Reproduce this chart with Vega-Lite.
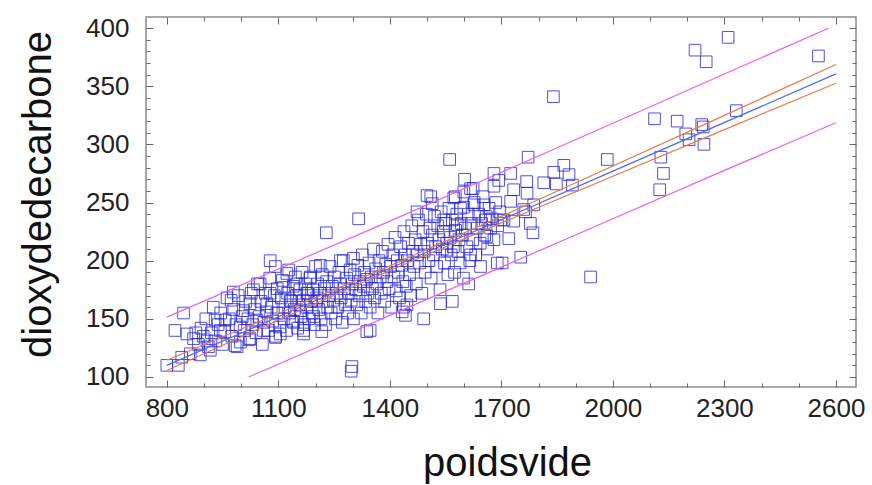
{
  "$schema": "https://vega.github.io/schema/vega-lite/v6.json",
  "autosize": "none",
  "width": 710,
  "height": 370,
  "padding": {"left": 146, "top": 17, "right": 16, "bottom": 98},
  "background": "white",
  "config": {
    "view": {"stroke": "#8c8c8c", "strokeWidth": 1.5},
    "axis": {
      "domain": false,
      "grid": false,
      "tickColor": "#666666",
      "tickWidth": 1,
      "labelFont": "Liberation Sans",
      "labelFontSize": 26,
      "labelColor": "#222222",
      "titleFont": "Liberation Sans",
      "titleFontSize": 40,
      "titleFontWeight": "normal",
      "titleColor": "#111111"
    }
  },
  "datasets": {
    "pts": [
      {"poidsvide": 2310, "co2": 392}, {"poidsvide": 2221, "co2": 381}, {"poidsvide": 2251, "co2": 371}, {"poidsvide": 2553, "co2": 376},
      {"poidsvide": 2332, "co2": 329}, {"poidsvide": 2112, "co2": 322}, {"poidsvide": 2173, "co2": 320}, {"poidsvide": 2239, "co2": 317},
      {"poidsvide": 2243, "co2": 315}, {"poidsvide": 2196, "co2": 309}, {"poidsvide": 2205, "co2": 304}, {"poidsvide": 2245, "co2": 300},
      {"poidsvide": 2129, "co2": 289}, {"poidsvide": 2136, "co2": 275}, {"poidsvide": 2126, "co2": 261}, {"poidsvide": 1985, "co2": 287},
      {"poidsvide": 1882, "co2": 274}, {"poidsvide": 1868, "co2": 282}, {"poidsvide": 1891, "co2": 265}, {"poidsvide": 1940, "co2": 186},
      {"poidsvide": 1772, "co2": 289}, {"poidsvide": 1841, "co2": 276}, {"poidsvide": 1814, "co2": 267}, {"poidsvide": 1848, "co2": 266},
      {"poidsvide": 1768, "co2": 268}, {"poidsvide": 1769, "co2": 258}, {"poidsvide": 1733, "co2": 261}, {"poidsvide": 1725, "co2": 275},
      {"poidsvide": 1725, "co2": 251}, {"poidsvide": 1787, "co2": 248}, {"poidsvide": 1733, "co2": 234}, {"poidsvide": 1778, "co2": 232},
      {"poidsvide": 1785, "co2": 224}, {"poidsvide": 1720, "co2": 219}, {"poidsvide": 1752, "co2": 203}, {"poidsvide": 1702, "co2": 198},
      {"poidsvide": 1765, "co2": 242}, {"poidsvide": 1707, "co2": 235}, {"poidsvide": 1840, "co2": 341}, {"poidsvide": 1561, "co2": 287},
      {"poidsvide": 1601, "co2": 270}, {"poidsvide": 1680, "co2": 275}, {"poidsvide": 1624, "co2": 262}, {"poidsvide": 1576, "co2": 255},
      {"poidsvide": 1693, "co2": 269}, {"poidsvide": 1590, "co2": 245}, {"poidsvide": 1653, "co2": 248}, {"poidsvide": 1760, "co2": 244},
      {"poidsvide": 1545, "co2": 235}, {"poidsvide": 1581, "co2": 231}, {"poidsvide": 1657, "co2": 235}, {"poidsvide": 1698, "co2": 235},
      {"poidsvide": 1661, "co2": 221}, {"poidsvide": 1644, "co2": 195}, {"poidsvide": 1612, "co2": 180}, {"poidsvide": 1568, "co2": 165},
      {"poidsvide": 1617, "co2": 205}, {"poidsvide": 1554, "co2": 209},
      {"poidsvide": 800, "co2": 110}, {"poidsvide": 831, "co2": 110}, {"poidsvide": 840, "co2": 117}, {"poidsvide": 863, "co2": 120},
      {"poidsvide": 822, "co2": 140}, {"poidsvide": 854, "co2": 137}, {"poidsvide": 872, "co2": 133}, {"poidsvide": 845, "co2": 155},
      {"poidsvide": 878, "co2": 138}, {"poidsvide": 890, "co2": 119}, {"poidsvide": 917, "co2": 123}, {"poidsvide": 908, "co2": 131},
      {"poidsvide": 930, "co2": 149}, {"poidsvide": 944, "co2": 140}, {"poidsvide": 957, "co2": 149}, {"poidsvide": 979, "co2": 173},
      {"poidsvide": 973, "co2": 166}, {"poidsvide": 984, "co2": 127}, {"poidsvide": 997, "co2": 143}, {"poidsvide": 1006, "co2": 157},
      {"poidsvide": 1024, "co2": 163}, {"poidsvide": 1024, "co2": 133}, {"poidsvide": 1033, "co2": 175}, {"poidsvide": 1042, "co2": 149},
      {"poidsvide": 1051, "co2": 180}, {"poidsvide": 1060, "co2": 140}, {"poidsvide": 1069, "co2": 163}, {"poidsvide": 1078, "co2": 200},
      {"poidsvide": 1092, "co2": 195}, {"poidsvide": 1078, "co2": 172}, {"poidsvide": 1096, "co2": 155}, {"poidsvide": 1105, "co2": 137},
      {"poidsvide": 1123, "co2": 189}, {"poidsvide": 1114, "co2": 177}, {"poidsvide": 1132, "co2": 166}, {"poidsvide": 1141, "co2": 147},
      {"poidsvide": 1150, "co2": 180}, {"poidsvide": 1159, "co2": 157}, {"poidsvide": 1168, "co2": 140}, {"poidsvide": 1177, "co2": 172},
      {"poidsvide": 1186, "co2": 186}, {"poidsvide": 1195, "co2": 152}, {"poidsvide": 1204, "co2": 166},
      {"poidsvide": 1316, "co2": 236}, {"poidsvide": 1229, "co2": 224}, {"poidsvide": 1302, "co2": 202}, {"poidsvide": 1267, "co2": 200},
      {"poidsvide": 1213, "co2": 196}, {"poidsvide": 1298, "co2": 109}, {"poidsvide": 1296, "co2": 105}, {"poidsvide": 1347, "co2": 140},
      {"poidsvide": 1338, "co2": 139}, {"poidsvide": 1491, "co2": 150}, {"poidsvide": 1442, "co2": 153}, {"poidsvide": 1437, "co2": 160},
      {"poidsvide": 1536, "co2": 163}, {"poidsvide": 1689, "co2": 198}, {"poidsvide": 1217, "co2": 139}, {"poidsvide": 1092, "co2": 134},
      {"poidsvide": 989, "co2": 126}, {"poidsvide": 1500, "co2": 256}, {"poidsvide": 1510, "co2": 255}, {"poidsvide": 1473, "co2": 242},
      {"poidsvide": 1572, "co2": 254}, {"poidsvide": 1599, "co2": 259}, {"poidsvide": 1617, "co2": 262}, {"poidsvide": 1680, "co2": 264},
      {"poidsvide": 1626, "co2": 248}, {"poidsvide": 1514, "co2": 249}, {"poidsvide": 1599, "co2": 246}, {"poidsvide": 1433, "co2": 156},
      {"poidsvide": 1446, "co2": 162}, {"poidsvide": 1168, "co2": 137},
      {"poidsvide": 885, "co2": 128}, {"poidsvide": 892, "co2": 142}, {"poidsvide": 898, "co2": 135}, {"poidsvide": 905, "co2": 150},
      {"poidsvide": 912, "co2": 126}, {"poidsvide": 920, "co2": 138}, {"poidsvide": 925, "co2": 160}, {"poidsvide": 932, "co2": 131},
      {"poidsvide": 938, "co2": 145}, {"poidsvide": 945, "co2": 155}, {"poidsvide": 950, "co2": 128}, {"poidsvide": 956, "co2": 139},
      {"poidsvide": 962, "co2": 168}, {"poidsvide": 968, "co2": 150}, {"poidsvide": 975, "co2": 135}, {"poidsvide": 980, "co2": 158},
      {"poidsvide": 986, "co2": 145}, {"poidsvide": 992, "co2": 170}, {"poidsvide": 998, "co2": 130}, {"poidsvide": 1003, "co2": 152},
      {"poidsvide": 1008, "co2": 140}, {"poidsvide": 1012, "co2": 165}, {"poidsvide": 1018, "co2": 150}, {"poidsvide": 1022, "co2": 132},
      {"poidsvide": 1027, "co2": 172}, {"poidsvide": 1031, "co2": 145}, {"poidsvide": 1036, "co2": 158}, {"poidsvide": 1040, "co2": 138},
      {"poidsvide": 1044, "co2": 180}, {"poidsvide": 1048, "co2": 152}, {"poidsvide": 1053, "co2": 165}, {"poidsvide": 1057, "co2": 128},
      {"poidsvide": 1061, "co2": 147}, {"poidsvide": 1065, "co2": 172}, {"poidsvide": 1069, "co2": 156}, {"poidsvide": 1073, "co2": 140},
      {"poidsvide": 1077, "co2": 185}, {"poidsvide": 1081, "co2": 160}, {"poidsvide": 1085, "co2": 148}, {"poidsvide": 1089, "co2": 170},
      {"poidsvide": 1093, "co2": 135}, {"poidsvide": 1097, "co2": 176}, {"poidsvide": 1101, "co2": 155}, {"poidsvide": 1104, "co2": 143},
      {"poidsvide": 1108, "co2": 168}, {"poidsvide": 1111, "co2": 183}, {"poidsvide": 1115, "co2": 150}, {"poidsvide": 1118, "co2": 160},
      {"poidsvide": 1122, "co2": 140}, {"poidsvide": 1125, "co2": 172}, {"poidsvide": 1128, "co2": 192}, {"poidsvide": 1131, "co2": 155},
      {"poidsvide": 1134, "co2": 165}, {"poidsvide": 1137, "co2": 148}, {"poidsvide": 1140, "co2": 178}, {"poidsvide": 1143, "co2": 158},
      {"poidsvide": 1146, "co2": 186}, {"poidsvide": 1149, "co2": 170}, {"poidsvide": 1152, "co2": 142}, {"poidsvide": 1155, "co2": 162},
      {"poidsvide": 1158, "co2": 175}, {"poidsvide": 1161, "co2": 152}, {"poidsvide": 1164, "co2": 190}, {"poidsvide": 1167, "co2": 166},
      {"poidsvide": 1170, "co2": 145}, {"poidsvide": 1173, "co2": 180}, {"poidsvide": 1176, "co2": 160}, {"poidsvide": 1179, "co2": 172},
      {"poidsvide": 1182, "co2": 150}, {"poidsvide": 1185, "co2": 185}, {"poidsvide": 1188, "co2": 165}, {"poidsvide": 1191, "co2": 155},
      {"poidsvide": 1194, "co2": 175}, {"poidsvide": 1197, "co2": 145}, {"poidsvide": 1200, "co2": 195},
      {"poidsvide": 1203, "co2": 168}, {"poidsvide": 1206, "co2": 180}, {"poidsvide": 1209, "co2": 158}, {"poidsvide": 1212, "co2": 172},
      {"poidsvide": 1215, "co2": 150}, {"poidsvide": 1218, "co2": 188}, {"poidsvide": 1221, "co2": 165}, {"poidsvide": 1224, "co2": 176},
      {"poidsvide": 1227, "co2": 145}, {"poidsvide": 1230, "co2": 182}, {"poidsvide": 1233, "co2": 160}, {"poidsvide": 1236, "co2": 170},
      {"poidsvide": 1239, "co2": 195}, {"poidsvide": 1242, "co2": 155}, {"poidsvide": 1245, "co2": 178}, {"poidsvide": 1248, "co2": 166},
      {"poidsvide": 1251, "co2": 186}, {"poidsvide": 1254, "co2": 150}, {"poidsvide": 1257, "co2": 172}, {"poidsvide": 1260, "co2": 160},
      {"poidsvide": 1263, "co2": 190}, {"poidsvide": 1266, "co2": 180}, {"poidsvide": 1269, "co2": 168}, {"poidsvide": 1272, "co2": 147},
      {"poidsvide": 1275, "co2": 200}, {"poidsvide": 1278, "co2": 176}, {"poidsvide": 1281, "co2": 162}, {"poidsvide": 1284, "co2": 185},
      {"poidsvide": 1287, "co2": 155}, {"poidsvide": 1290, "co2": 172}, {"poidsvide": 1293, "co2": 192}, {"poidsvide": 1296, "co2": 166},
      {"poidsvide": 1299, "co2": 180},
      {"poidsvide": 1302, "co2": 150}, {"poidsvide": 1305, "co2": 188}, {"poidsvide": 1308, "co2": 175}, {"poidsvide": 1311, "co2": 162},
      {"poidsvide": 1314, "co2": 196}, {"poidsvide": 1317, "co2": 170}, {"poidsvide": 1320, "co2": 182}, {"poidsvide": 1323, "co2": 155},
      {"poidsvide": 1326, "co2": 205}, {"poidsvide": 1329, "co2": 178}, {"poidsvide": 1332, "co2": 190}, {"poidsvide": 1335, "co2": 165},
      {"poidsvide": 1338, "co2": 184}, {"poidsvide": 1341, "co2": 172}, {"poidsvide": 1344, "co2": 198}, {"poidsvide": 1347, "co2": 160},
      {"poidsvide": 1350, "co2": 186}, {"poidsvide": 1353, "co2": 176}, {"poidsvide": 1356, "co2": 210}, {"poidsvide": 1359, "co2": 168},
      {"poidsvide": 1362, "co2": 193}, {"poidsvide": 1365, "co2": 180}, {"poidsvide": 1368, "co2": 155}, {"poidsvide": 1371, "co2": 200},
      {"poidsvide": 1374, "co2": 186}, {"poidsvide": 1377, "co2": 172}, {"poidsvide": 1380, "co2": 208}, {"poidsvide": 1383, "co2": 190},
      {"poidsvide": 1386, "co2": 165}, {"poidsvide": 1389, "co2": 197}, {"poidsvide": 1392, "co2": 182}, {"poidsvide": 1395, "co2": 214},
      {"poidsvide": 1398, "co2": 176},
      {"poidsvide": 1402, "co2": 195}, {"poidsvide": 1405, "co2": 160}, {"poidsvide": 1408, "co2": 205}, {"poidsvide": 1411, "co2": 186},
      {"poidsvide": 1414, "co2": 220}, {"poidsvide": 1417, "co2": 174}, {"poidsvide": 1420, "co2": 200}, {"poidsvide": 1423, "co2": 190},
      {"poidsvide": 1426, "co2": 168}, {"poidsvide": 1429, "co2": 212}, {"poidsvide": 1432, "co2": 196}, {"poidsvide": 1435, "co2": 182},
      {"poidsvide": 1438, "co2": 225}, {"poidsvide": 1441, "co2": 205}, {"poidsvide": 1444, "co2": 178}, {"poidsvide": 1447, "co2": 200},
      {"poidsvide": 1450, "co2": 215}, {"poidsvide": 1453, "co2": 188}, {"poidsvide": 1456, "co2": 170}, {"poidsvide": 1459, "co2": 230},
      {"poidsvide": 1462, "co2": 208}, {"poidsvide": 1465, "co2": 195}, {"poidsvide": 1468, "co2": 218}, {"poidsvide": 1471, "co2": 180},
      {"poidsvide": 1474, "co2": 205}, {"poidsvide": 1477, "co2": 235}, {"poidsvide": 1480, "co2": 198}, {"poidsvide": 1483, "co2": 214},
      {"poidsvide": 1486, "co2": 172}, {"poidsvide": 1489, "co2": 225}, {"poidsvide": 1492, "co2": 208}, {"poidsvide": 1495, "co2": 190},
      {"poidsvide": 1498, "co2": 240},
      {"poidsvide": 1502, "co2": 215}, {"poidsvide": 1505, "co2": 200}, {"poidsvide": 1508, "co2": 228}, {"poidsvide": 1511, "co2": 185},
      {"poidsvide": 1514, "co2": 222}, {"poidsvide": 1517, "co2": 205}, {"poidsvide": 1520, "co2": 238}, {"poidsvide": 1523, "co2": 212},
      {"poidsvide": 1526, "co2": 195}, {"poidsvide": 1529, "co2": 230}, {"poidsvide": 1532, "co2": 218}, {"poidsvide": 1535, "co2": 175},
      {"poidsvide": 1538, "co2": 242}, {"poidsvide": 1541, "co2": 210}, {"poidsvide": 1544, "co2": 225}, {"poidsvide": 1547, "co2": 198},
      {"poidsvide": 1550, "co2": 232}, {"poidsvide": 1553, "co2": 215}, {"poidsvide": 1556, "co2": 188}, {"poidsvide": 1559, "co2": 245},
      {"poidsvide": 1562, "co2": 220}, {"poidsvide": 1565, "co2": 205}, {"poidsvide": 1568, "co2": 235}, {"poidsvide": 1571, "co2": 212},
      {"poidsvide": 1574, "co2": 190}, {"poidsvide": 1577, "co2": 226}, {"poidsvide": 1580, "co2": 240}, {"poidsvide": 1583, "co2": 208},
      {"poidsvide": 1586, "co2": 218}, {"poidsvide": 1589, "co2": 198}, {"poidsvide": 1592, "co2": 232}, {"poidsvide": 1595, "co2": 222},
      {"poidsvide": 1598, "co2": 185},
      {"poidsvide": 1603, "co2": 228}, {"poidsvide": 1607, "co2": 212}, {"poidsvide": 1611, "co2": 240}, {"poidsvide": 1615, "co2": 200},
      {"poidsvide": 1619, "co2": 232}, {"poidsvide": 1623, "co2": 218}, {"poidsvide": 1627, "co2": 250}, {"poidsvide": 1631, "co2": 205},
      {"poidsvide": 1635, "co2": 228}, {"poidsvide": 1639, "co2": 240}, {"poidsvide": 1643, "co2": 215}, {"poidsvide": 1647, "co2": 232},
      {"poidsvide": 1651, "co2": 255}, {"poidsvide": 1655, "co2": 222}, {"poidsvide": 1659, "co2": 238}, {"poidsvide": 1663, "co2": 210},
      {"poidsvide": 1667, "co2": 245}, {"poidsvide": 1671, "co2": 228}, {"poidsvide": 1675, "co2": 236}, {"poidsvide": 1680, "co2": 218},
      {"poidsvide": 1685, "co2": 250}, {"poidsvide": 1690, "co2": 230}, {"poidsvide": 1695, "co2": 242}
    ],
    "lines": [
      {"serie": "fit", "poidsvide": 800, "co2": 110.0}, {"serie": "fit", "poidsvide": 1400, "co2": 193.5}, {"serie": "fit", "poidsvide": 2000, "co2": 277.0}, {"serie": "fit", "poidsvide": 2600, "co2": 360.6},
      {"serie": "conf_hi", "poidsvide": 800, "co2": 114.4}, {"serie": "conf_hi", "poidsvide": 1100, "co2": 154.6}, {"serie": "conf_hi", "poidsvide": 1400, "co2": 195.5}, {"serie": "conf_hi", "poidsvide": 1700, "co2": 238.1}, {"serie": "conf_hi", "poidsvide": 2000, "co2": 281.4}, {"serie": "conf_hi", "poidsvide": 2300, "co2": 324.9}, {"serie": "conf_hi", "poidsvide": 2600, "co2": 368.6},
      {"serie": "conf_lo", "poidsvide": 800, "co2": 105.6}, {"serie": "conf_lo", "poidsvide": 1100, "co2": 149.0}, {"serie": "conf_lo", "poidsvide": 1400, "co2": 191.5}, {"serie": "conf_lo", "poidsvide": 1700, "co2": 232.5}, {"serie": "conf_lo", "poidsvide": 2000, "co2": 272.6}, {"serie": "conf_lo", "poidsvide": 2300, "co2": 312.7}, {"serie": "conf_lo", "poidsvide": 2600, "co2": 352.6},
      {"serie": "pred_hi", "poidsvide": 800, "co2": 151.5}, {"serie": "pred_hi", "poidsvide": 1100, "co2": 192.8}, {"serie": "pred_hi", "poidsvide": 1400, "co2": 234.0}, {"serie": "pred_hi", "poidsvide": 1700, "co2": 276.0}, {"serie": "pred_hi", "poidsvide": 2000, "co2": 318.2}, {"serie": "pred_hi", "poidsvide": 2300, "co2": 360.5}, {"serie": "pred_hi", "poidsvide": 2580, "co2": 399.8},
      {"serie": "pred_lo", "poidsvide": 1020, "co2": 100.0}, {"serie": "pred_lo", "poidsvide": 1100, "co2": 111.0}, {"serie": "pred_lo", "poidsvide": 1400, "co2": 153.0}, {"serie": "pred_lo", "poidsvide": 1700, "co2": 194.5}, {"serie": "pred_lo", "poidsvide": 2000, "co2": 236.0}, {"serie": "pred_lo", "poidsvide": 2300, "co2": 277.6}, {"serie": "pred_lo", "poidsvide": 2600, "co2": 318.6}
    ]
  },
  "layer": [
    {
      "data": {"name": "pts"},
      "mark": {"type": "point", "shape": "square", "filled": false, "size": 135, "stroke": "#2020d8", "strokeWidth": 1, "opacity": 0.78},
      "encoding": {
        "x": {
          "field": "poidsvide", "type": "quantitative",
          "scale": {"domain": [744, 2654], "nice": false, "zero": false},
          "axis": {
            "orient": "bottom", "title": "poidsvide", "format": "d",
            "values": [800, 900, 1000, 1100, 1200, 1300, 1400, 1500, 1600, 1700, 1800, 1900, 2000, 2100, 2200, 2300, 2400, 2500, 2600],
            "labelExpr": "datum.value % 300 == 200 ? datum.label : ''",
            "tickSize": {"condition": {"test": "datum.value % 300 == 200", "value": -7}, "value": -4},
            "labelPadding": 15,
            "titleX": 361, "titleY": 88, "titleBaseline": "alphabetic", "titleAlign": "center"
          }
        },
        "y": {
          "field": "co2", "type": "quantitative",
          "scale": {"domain": [91.4, 409.5], "nice": false, "zero": false},
          "axis": {
            "orient": "left", "title": "dioxydedecarbone", "format": "d",
            "values": [100, 110, 120, 130, 140, 150, 160, 170, 180, 190, 200, 210, 220, 230, 240, 250, 260, 270, 280, 290, 300, 310, 320, 330, 340, 350, 360, 370, 380, 390, 400],
            "labelExpr": "datum.value % 50 == 0 ? datum.label : ''",
            "tickSize": {"condition": {"test": "datum.value % 50 == 0", "value": -7}, "value": -4},
            "labelPadding": 24,
            "titleX": -108, "titleY": 177, "titleBaseline": "middle", "titleAlign": "center", "titleAngle": 270
          }
        }
      }
    },
    {
      "data": {"name": "lines"},
      "mark": {"type": "line", "strokeWidth": 1.2, "clip": true},
      "encoding": {
        "x": {
          "field": "poidsvide", "type": "quantitative",
          "scale": {"domain": [744, 2654], "nice": false, "zero": false},
          "axis": {
            "orient": "top", "title": null, "labels": false,
            "values": [800, 900, 1000, 1100, 1200, 1300, 1400, 1500, 1600, 1700, 1800, 1900, 2000, 2100, 2200, 2300, 2400, 2500, 2600],
            "tickSize": {"condition": {"test": "datum.value % 300 == 200", "value": -7}, "value": -4}
          }
        },
        "y": {
          "field": "co2", "type": "quantitative",
          "scale": {"domain": [91.4, 409.5], "nice": false, "zero": false},
          "axis": {
            "orient": "right", "title": null, "labels": false,
            "values": [100, 110, 120, 130, 140, 150, 160, 170, 180, 190, 200, 210, 220, 230, 240, 250, 260, 270, 280, 290, 300, 310, 320, 330, 340, 350, 360, 370, 380, 390, 400],
            "tickSize": {"condition": {"test": "datum.value % 50 == 0", "value": -7}, "value": -4}
          }
        },
        "detail": {"field": "serie", "type": "nominal"},
        "color": {
          "field": "serie", "type": "nominal",
          "scale": {"domain": ["fit", "conf_hi", "conf_lo", "pred_hi", "pred_lo"], "range": ["#4a6cf0", "#ee7744", "#ee7744", "#e860e8", "#e860e8"]},
          "legend": null
        },
        "order": {"field": "poidsvide", "type": "quantitative"}
      }
    }
  ],
  "resolve": {"axis": {"x": "independent", "y": "independent"}}
}
